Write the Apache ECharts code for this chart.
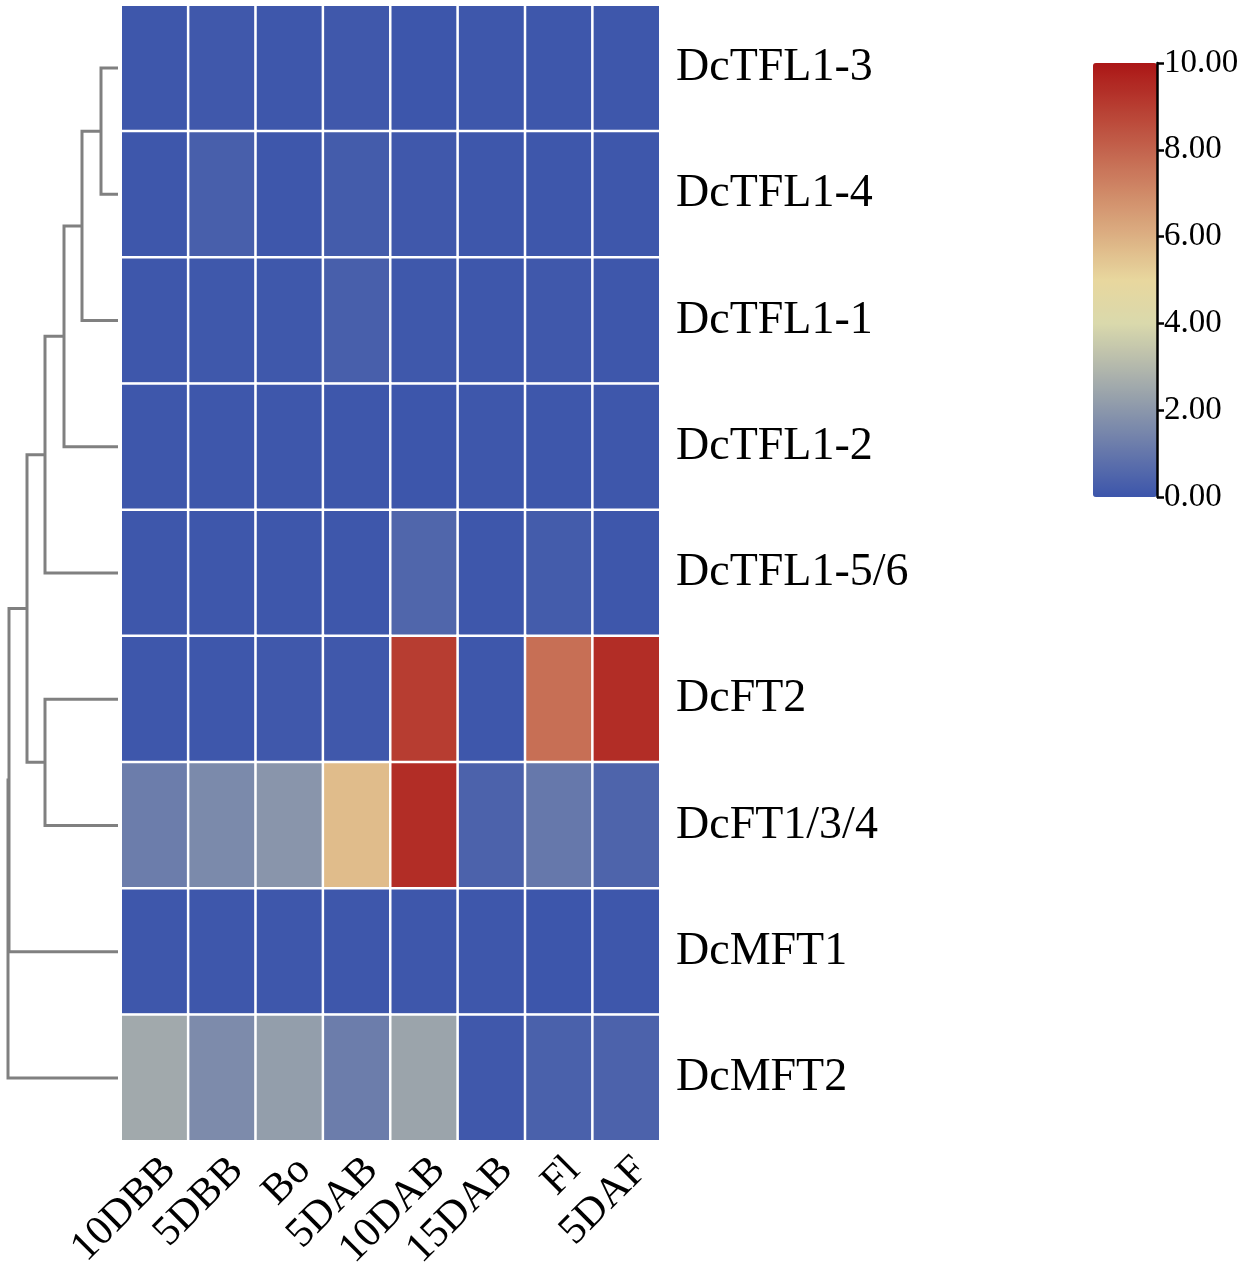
<!DOCTYPE html>
<html>
<head>
<meta charset="utf-8">
<script src="https://cdn.jsdelivr.net/npm/echarts@6/dist/echarts.min.js"></script>
<style>
  html, body { margin: 0; padding: 0; background: #fff; }
  #chart { width: 1247px; height: 1269px; }
</style>
</head>
<body>
<div id="chart"></div>
<script>
// samples (columns) and genes (rows, top to bottom)
const samples = ['10DBB', '5DBB', 'Bo', '5DAB', '10DAB', '15DAB', 'Fl', '5DAF'];
const genes = ['DcTFL1-3', 'DcTFL1-4', 'DcTFL1-1', 'DcTFL1-2', 'DcTFL1-5/6',
               'DcFT2', 'DcFT1/3/4', 'DcMFT1', 'DcMFT2'];

// expression values, one array per gene
const tfl13 = [0.05, 0.10, 0.05, 0.10, 0.02, 0.05, 0.05, 0.05];
const tfl14 = [0.05, 0.30, 0.05, 0.20, 0.10, 0.05, 0.05, 0.05];
const tfl11 = [0.05, 0.08, 0.08, 0.30, 0.08, 0.05, 0.10, 0.05];
const tfl12 = [0.05, 0.05, 0.05, 0.05, 0.02, 0.05, 0.05, 0.05];
const tfl156 = [0.05, 0.05, 0.05, 0.05, 0.50, 0.05, 0.20, 0.05];
const ft2 = [0.05, 0.05, 0.10, 0.10, 9.00, 0.05, 7.70, 9.40];
const ft134 = [1.20, 1.60, 1.95, 5.70, 9.40, 0.40, 1.05, 0.45];
const mft1 = [0.05, 0.05, 0.05, 0.05, 0.05, 0.05, 0.02, 0.05];
const mft2 = [2.55, 1.65, 2.20, 1.20, 2.40, 0.10, 0.35, 0.40];
const rows = [tfl13, tfl14, tfl11, tfl12, tfl156, ft2, ft134, mft1, mft2];

// colour bar ticks
const barTicks = [0, 2, 4, 6, 8, 10];

// row clustering: [childA, childB, height]; leaves are row indices,
// merges are referred to as 'm' + index
const merges = [
  [0, 1, 17],
  ['m0', 2, 36],
  ['m1', 3, 54],
  ['m2', 4, 73],
  [5, 6, 73],
  ['m3', 'm4', 91],
  ['m5', 7, 109],
  ['m6', 8, 110]
];

const cells = [];
rows.forEach((vals, r) => {
  vals.forEach((v, c) => cells.push([c, r, v]));
});

// dendrogram polylines
const nodeY = {}, nodeH = {};
function nodePos(k) {
  if (typeof k === 'number') return [0, k];
  return [nodeH[k], nodeY[k]];
}
const dendro = [];
merges.forEach((m, i) => {
  const a = nodePos(m[0]), b = nodePos(m[1]), h = m[2];
  nodeY['m' + i] = (a[1] + b[1]) / 2;
  nodeH['m' + i] = h;
  dendro.push({ coords: [[a[0], a[1]], [h, a[1]], [h, b[1]], [b[0], b[1]]] });
});

const serif = 'Liberation Serif, Times New Roman, serif';

const option = {
  backgroundColor: '#fff',
  animation: false,
  grid: [
    { left: 121, top: 5, width: 539, height: 1136, outerBoundsMode: 'none' },
    { left: 8, top: 5, width: 110, height: 1136, outerBoundsMode: 'none' },
    { left: 1100, top: 63, width: 57, height: 434, outerBoundsMode: 'none' }
  ],
  xAxis: [
    {
      type: 'category', data: samples, gridIndex: 0,
      axisLine: { show: false }, axisTick: { show: false },
      axisLabel: { rotate: 45, fontSize: 42, fontFamily: serif, color: '#000', margin: 8,
                   interval: 0, verticalAlign: 'top' }
    },
    { type: 'value', gridIndex: 1, min: 0, max: 110, inverse: true, show: false },
    { type: 'value', gridIndex: 2, min: 0, max: 1, show: false }
  ],
  yAxis: [
    {
      type: 'category', data: genes, gridIndex: 0, inverse: true, position: 'right',
      axisLine: { show: false }, axisTick: { show: false },
      axisLabel: { fontSize: 46, fontFamily: serif, color: '#000', margin: 16, padding: [6, 0, 0, 0] }
    },
    { type: 'value', gridIndex: 1, min: -0.5, max: 8.5, inverse: true, show: false },
    {
      type: 'value', gridIndex: 2, min: 0, max: 10, interval: 2, position: 'right', z: 20,
      splitLine: { show: false },
      axisLine: { show: true, onZero: false, lineStyle: { color: '#000', width: 2.5 } },
      axisTick: { show: true, length: 7, lineStyle: { color: '#000', width: 2.5 } },
      axisLabel: { fontSize: 33, fontFamily: serif, color: '#000', margin: 7,
                   formatter: v => barTicks.includes(v) ? v.toFixed(2) : '' }
    }
  ],
  visualMap: {
    type: 'continuous',
    min: 0, max: 10,
    seriesIndex: 0,
    calculable: false,
    hoverLink: false,
    orient: 'vertical',
    left: 1093, top: 63,
    itemWidth: 64, itemHeight: 434,
    padding: 0,
    z: 1,
    text: ['', ''],
    showLabel: false,
    inRange: {
      color: ['#3c55ab', '#6476ab', '#8b97ab', '#b3b8ac', '#dad9ac', '#e8d79e',
              '#dcb083', '#d08a68', '#c3634d', '#b73d31', '#ab1616']
    }
  },
  series: [
    {
      type: 'heatmap', xAxisIndex: 0, yAxisIndex: 0, data: cells,
      itemStyle: { borderColor: '#fff', borderWidth: 2.5 },
      emphasis: { disabled: true }
    },
    {
      type: 'lines', coordinateSystem: 'cartesian2d', xAxisIndex: 1, yAxisIndex: 1,
      polyline: true, data: dendro, silent: true,
      lineStyle: { color: '#808080', width: 3, opacity: 1 }
    },
    { type: 'line', xAxisIndex: 2, yAxisIndex: 2, data: [] }
  ]
};

const myChart = echarts.init(document.getElementById('chart'));
myChart.setOption(option);
window.addEventListener('resize', function () {
  myChart.resize();
});
</script>
</body>
</html>
